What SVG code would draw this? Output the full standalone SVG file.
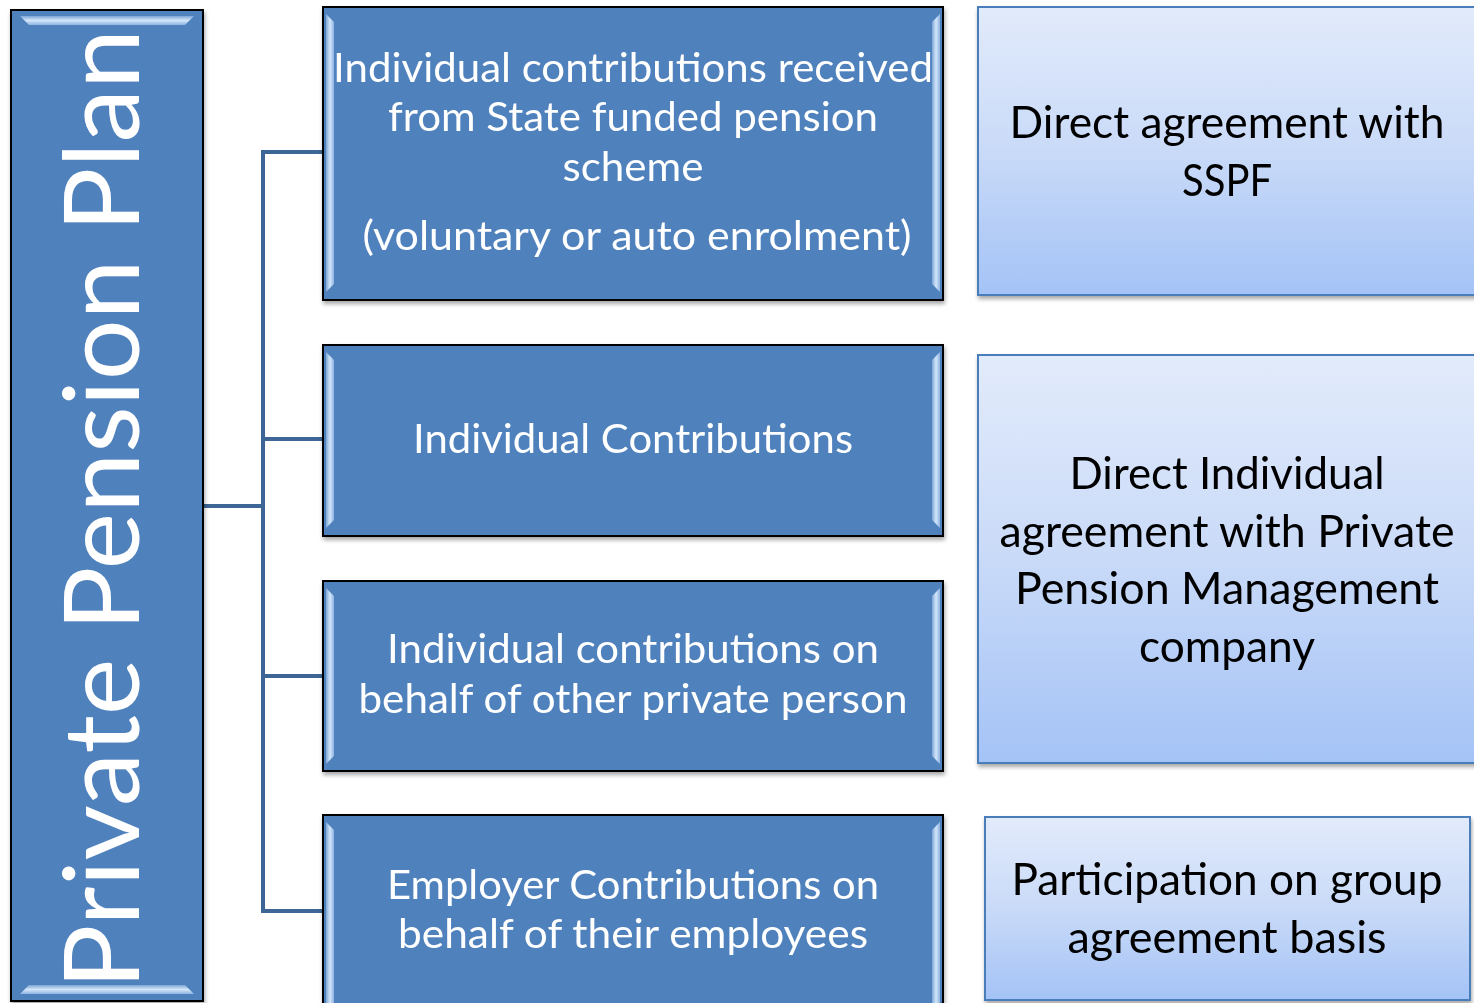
<svg xmlns="http://www.w3.org/2000/svg" width="1474" height="1003" viewBox="0 0 1474 1003">
<style>
.mid{fill:#4f81bd;stroke:#000;stroke-width:2}
.wt{font-family:Lato,"Noto Sans","Liberation Sans",sans-serif;font-size:40px;fill:#fff;text-anchor:middle}
.bt{font-family:Lato,"Noto Sans","Liberation Sans",sans-serif;font-size:45px;fill:#000;text-anchor:middle}
.rbox{fill:url(#lg);stroke:#4a7ebb;stroke-width:2}
.conn{fill:none;stroke:#3d6696;stroke-width:4}
.bev{fill:url(#bv)}
.bevh{fill:url(#bvh)}
</style>
<defs>
<linearGradient id="lg" x1="0" y1="0" x2="0" y2="1">
<stop offset="0" stop-color="#e2ebfb"/>
<stop offset="0.5" stop-color="#c9daf8"/>
<stop offset="1" stop-color="#a4c3f6"/>
</linearGradient>
<linearGradient id="bv" x1="0" y1="0" x2="1" y2="0">
<stop offset="0" stop-color="#7fa6d6"/>
<stop offset="0.5" stop-color="#d3e6fa"/>
<stop offset="1" stop-color="#8fb4e2"/>
</linearGradient>
<linearGradient id="bvh" x1="0" y1="0" x2="0" y2="1">
<stop offset="0" stop-color="#7fa6d6"/>
<stop offset="0.5" stop-color="#d3e6fa"/>
<stop offset="1" stop-color="#8fb4e2"/>
</linearGradient>
<filter id="sh" x="-5%" y="-5%" width="110%" height="115%">
<feGaussianBlur in="SourceAlpha" stdDeviation="2"/>
<feOffset dx="1" dy="3" result="o"/>
<feComponentTransfer><feFuncA type="linear" slope="0.35"/></feComponentTransfer>
<feMerge><feMergeNode/><feMergeNode in="SourceGraphic"/></feMerge>
</filter>
</defs>
<rect width="1474" height="1003" fill="#fff"/>

<g id="connectors">
<path class="conn" d="M203 506 H263"/>
<path class="conn" d="M323 152 H263 V911 H323"/>
<path class="conn" d="M263 439 H323"/>
<path class="conn" d="M263 676 H323"/>
</g>

<g id="root" filter="url(#sh)">
<rect x="11" y="10" width="192" height="991" class="mid"/>
<polygon class="bevh" points="20,16 194,16 185,25 29,25"/>
<polygon class="bevh" points="29,985 185,985 194,994 20,994"/>
<text transform="translate(139,509) rotate(-90)" style="font-family:Lato,'Noto Sans','Liberation Sans',sans-serif;font-size:105px;fill:#fff;text-anchor:middle" textLength="960" lengthAdjust="spacingAndGlyphs">Private Pension Plan</text>
</g>

<g id="n1" filter="url(#sh)">
<rect x="323" y="7" width="620" height="293" class="mid"/>
<polygon class="bev" points="326,14 334,22 334,284 326,292"/>
<polygon class="bev" points="932,22 940,14 940,292 932,284"/>
<text class="wt" x="633" y="82" textLength="600" lengthAdjust="spacingAndGlyphs">Individual contributions received</text>
<text class="wt" x="633" y="131" textLength="490" lengthAdjust="spacingAndGlyphs">from State funded pension</text>
<text class="wt" x="633" y="181" textLength="141" lengthAdjust="spacingAndGlyphs">scheme</text>
<text class="wt" x="637" y="250" textLength="549" lengthAdjust="spacingAndGlyphs">(voluntary or auto enrolment)</text>
</g>

<g id="n2" filter="url(#sh)">
<rect x="323" y="345" width="620" height="191" class="mid"/>
<polygon class="bev" points="326,352 334,360 334,520 326,528"/>
<polygon class="bev" points="932,360 940,352 940,528 932,520"/>
<text class="wt" x="633" y="453" textLength="440" lengthAdjust="spacingAndGlyphs">Individual Contributions</text>
</g>

<g id="n3" filter="url(#sh)">
<rect x="323" y="581" width="620" height="190" class="mid"/>
<polygon class="bev" points="326,588 334,596 334,756 326,764"/>
<polygon class="bev" points="932,596 940,588 940,764 932,756"/>
<text class="wt" x="633" y="663" textLength="492" lengthAdjust="spacingAndGlyphs">Individual contributions on</text>
<text class="wt" x="633" y="713" textLength="549" lengthAdjust="spacingAndGlyphs">behalf of other private person</text>
</g>

<g id="n4" filter="url(#sh)">
<rect x="323" y="815" width="620" height="200" class="mid"/>
<polygon class="bev" points="326,822 334,830 334,1003 326,1003"/>
<polygon class="bev" points="932,830 940,822 940,1003 932,1003"/>
<text class="wt" x="633" y="899" textLength="492" lengthAdjust="spacingAndGlyphs">Employer Contributions on</text>
<text class="wt" x="633" y="948" textLength="470" lengthAdjust="spacingAndGlyphs">behalf of their employees</text>
</g>

<g id="r1" filter="url(#sh)">
<rect x="978" y="7" width="510" height="288" class="rbox"/>
<text class="bt" x="1227" y="138" textLength="435" lengthAdjust="spacingAndGlyphs">Direct agreement with</text>
<text class="bt" x="1227" y="196" textLength="90" lengthAdjust="spacingAndGlyphs">SSPF</text>
</g>

<g id="r2" filter="url(#sh)">
<rect x="978" y="355" width="510" height="408" class="rbox"/>
<text class="bt" x="1227" y="489" textLength="315" lengthAdjust="spacingAndGlyphs">Direct Individual</text>
<text class="bt" x="1227" y="547" textLength="455" lengthAdjust="spacingAndGlyphs">agreement with Private</text>
<text class="bt" x="1227" y="604" textLength="424" lengthAdjust="spacingAndGlyphs">Pension Management</text>
<text class="bt" x="1227" y="662" textLength="176" lengthAdjust="spacingAndGlyphs">company</text>
</g>

<g id="r3" filter="url(#sh)">
<rect x="985" y="817" width="485" height="183" class="rbox"/>
<text class="bt" x="1227" y="895" textLength="431" lengthAdjust="spacingAndGlyphs">Participation on group</text>
<text class="bt" x="1227" y="953" textLength="319" lengthAdjust="spacingAndGlyphs">agreement basis</text>
</g>
</svg>
